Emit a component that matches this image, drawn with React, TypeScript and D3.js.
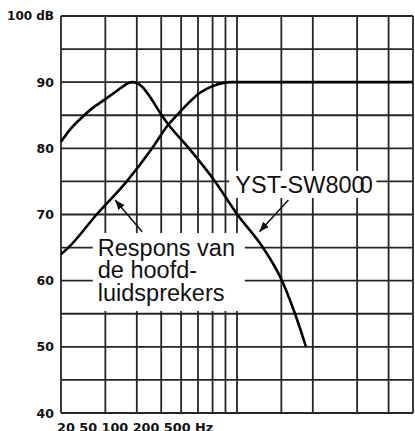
import React from "react";
import * as d3 from "d3";

// ---- data ----
const xGridFreqs = [20, 30, 40, 50, 60, 70, 80, 90, 100, 150, 200, 300, 400, 500];
const yGridDb = [40, 45, 50, 55, 60, 65, 70, 75, 80, 85, 90, 95, 100];
const yTickLabels = [90, 80, 70, 60, 50, 40];
const yTopLabel = "100 dB";
const xTickLabels = ["20", "50", "100", "200", "500"];
const xUnit = "Hz";

// main speakers response (freq Hz, dB)
const mainFreq = [20, 21.4, 27.7, 36.5, 46, 53.4, 58, 64, 71.3, 80, 95.5, 500];
const mainDb = [64, 65, 70, 75, 80, 83.6, 85.1, 86.8, 88.4, 89.4, 90, 90];

// subwoofer response (freq Hz, dB)
const subFreq = [20, 21.8, 23.8, 26.5, 29.9, 33.5, 35.5, 37, 38.5, 40, 42, 45.1, 50.2, 53.4, 65.1, 81.8, 100.3, 126.8, 150.9, 170, 188];
const subDb = [81, 82.9, 84.4, 86.0, 87.4, 88.75, 89.45, 89.85, 90, 89.85, 89.3, 87.8, 85, 83.6, 79.8, 75, 70, 65, 60, 55, 50];

const subLabel = "YST-SW800";
const mainLabelLines = ["Respons van", "de hoofd-", "luidsprekers"];

// annotation anchors in data space
const subLabelAt = { f: 98.5, db: 73.3 };
const mainLabelAt = { f: 28, db: 63.8 };
const subArrow = { from: { f: 160, db: 72.2 }, to: { f: 122.7, db: 67.4 } };
const mainArrow = { from: { f: 42, db: 67.4 }, to: { f: 32.8, db: 72.2 } };

const W = 415;
const H = 431;

export default function App() {
  const x = d3.scaleLog().domain([20, 500]).range([61, 413]);
  const y = d3.scaleLinear().domain([40, 100]).range([413, 16]);

  const line = d3
    .line<[number, number]>()
    .x((d) => x(d[0]))
    .y((d) => y(d[1]))
    .curve(d3.curveMonotoneX);

  const mainPts = mainFreq.map((f, i) => [f, mainDb[i]] as [number, number]);
  const subPts = subFreq.map((f, i) => [f, subDb[i]] as [number, number]);

  const gridColor = "#262626";
  const gridW = 1.8;
  const axisFont = "'DejaVu Sans', Verdana, sans-serif";
  const textFont = "'Liberation Sans', Arial, Helvetica, sans-serif";

  const sx = x(subLabelAt.f);
  const sy = y(subLabelAt.db);
  const mx = x(mainLabelAt.f);
  const my = y(mainLabelAt.db);

  return (
    <svg
      width={W}
      height={H}
      viewBox={`0 0 ${W} ${H}`}
      style={{ position: "absolute", left: 0, top: 0, background: "#fff" }}
    >
      <defs>
        <marker
          id="ah"
          viewBox="0 0 10 8"
          refX="10"
          refY="4"
          markerWidth="10"
          markerHeight="8"
          markerUnits="userSpaceOnUse"
          orient="auto"
        >
          <path d="M0,0 L10,4 L0,8 Z" fill="#111" />
        </marker>
      </defs>
      <rect x={0} y={0} width={W} height={H} fill="#fff" />

      {/* grid */}
      <g stroke={gridColor} strokeWidth={gridW} fill="none">
        {yGridDb.map((d) => (
          <line key={"h" + d} x1={x(20)} x2={x(500)} y1={y(d)} y2={y(d)} />
        ))}
        {xGridFreqs.map((f) => (
          <line key={"v" + f} x1={x(f)} x2={x(f)} y1={y(100)} y2={y(40)} />
        ))}
      </g>

      {/* label backgrounds */}
      <rect x={sx - 6} y={sy - 21.7} width={147} height={27} fill="#fff" />
      <rect x={mx - 5} y={my - 22.5} width={152} height={78} fill="#fff" />

      {/* curves */}
      <path d={line(mainPts) || ""} fill="none" stroke="#000" strokeWidth={2.6} strokeLinejoin="round" />
      <path d={line(subPts) || ""} fill="none" stroke="#000" strokeWidth={2.6} strokeLinejoin="round" />

      {/* arrows */}
      <line
        x1={x(subArrow.from.f)}
        y1={y(subArrow.from.db)}
        x2={x(subArrow.to.f)}
        y2={y(subArrow.to.db)}
        stroke="#111"
        strokeWidth={1.5}
        markerEnd="url(#ah)"
      />
      <line
        x1={x(mainArrow.from.f)}
        y1={y(mainArrow.from.db)}
        x2={x(mainArrow.to.f)}
        y2={y(mainArrow.to.db)}
        stroke="#111"
        strokeWidth={1.5}
        markerEnd="url(#ah)"
      />

      {/* annotation texts */}
      <text x={sx} y={sy} fontFamily={textFont} fontSize={23.5} fill="#111">
        {subLabel}
        <tspan dx={-5}>0</tspan>
      </text>
      <text fontFamily={textFont} fontSize={23.5} fill="#111">
        {mainLabelLines.map((t, i) => (
          <tspan key={t} x={mx} y={my + i * 22.5}>
            {t}
          </tspan>
        ))}
      </text>

      {/* y axis labels */}
      <g fontFamily={axisFont} fontWeight="bold" fontSize={12.5} fill="#111" textAnchor="end">
        <text x={54} y={y(100) + 4.3} fontSize={12}>
          {yTopLabel}
        </text>
        {yTickLabels.map((d) => (
          <text key={d} x={54} y={y(d) + 4.6}>
            {d}
          </text>
        ))}
      </g>

      {/* x axis caption */}
      <text x={57} y={432} fontFamily={axisFont} fontWeight="bold" fontSize={12.8} fill="#111">
        {xTickLabels.join(" ") + " " + xUnit}
      </text>
    </svg>
  );
}
